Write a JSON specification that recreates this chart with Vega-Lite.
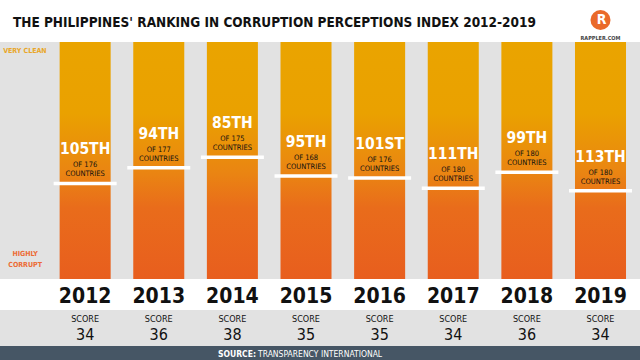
{
  "$schema": "https://vega.github.io/schema/vega-lite/v6.json",
  "padding": {"left": 0, "right": 0, "top": 9, "bottom": 0},
  "background": "white",
  "title": {
    "text": "THE PHILIPPINES' RANKING IN CORRUPTION PERCEPTIONS INDEX 2012-2019",
    "anchor": "start",
    "frame": "group",
    "dx": 13,
    "offset": -20,
    "font": "DejaVu Sans Condensed, DejaVu Sans, sans-serif",
    "fontSize": 13.5,
    "fontWeight": "bold",
    "color": "#111111"
  },
  "data": {
    "values": [
      {"year": "2012", "rank_label": "105TH", "countries": 176, "score": 34, "rank_share": 0.597},
      {"year": "2013", "rank_label": "94TH", "countries": 177, "score": 36, "rank_share": 0.531},
      {"year": "2014", "rank_label": "85TH", "countries": 175, "score": 38, "rank_share": 0.486},
      {"year": "2015", "rank_label": "95TH", "countries": 168, "score": 35, "rank_share": 0.565},
      {"year": "2016", "rank_label": "101ST", "countries": 176, "score": 35, "rank_share": 0.574},
      {"year": "2017", "rank_label": "111TH", "countries": 180, "score": 34, "rank_share": 0.617},
      {"year": "2018", "rank_label": "99TH", "countries": 180, "score": 36, "rank_share": 0.55},
      {"year": "2019", "rank_label": "113TH", "countries": 180, "score": 34, "rank_share": 0.628}
    ]
  },
  "spacing": 31,
  "bounds": "flush",
  "vconcat": [
    {
      "width": 640,
      "height": 237,
      "view": {"fill": "#e2e2e2", "stroke": null},
      "encoding": {
        "x": {
          "field": "year",
          "type": "nominal",
          "scale": {"type": "band", "paddingInner": 0.307, "paddingOuter": 0.5, "align": 0.81},
          "axis": {
            "title": null,
            "domain": false,
            "ticks": false,
            "grid": false,
            "labelAngle": 0,
            "labelFont": "DejaVu Sans Condensed, DejaVu Sans, sans-serif",
            "labelFontSize": 21,
            "labelFontWeight": "bold",
            "labelColor": "#111111",
            "labelPadding": 6,
            "labelBaseline": "top"
          }
        }
      },
      "layer": [
        {
          "mark": {
            "type": "bar",
            "color": {
              "gradient": "linear",
              "x1": 0, "y1": 0, "x2": 0, "y2": 1,
              "stops": [
                {"offset": 0, "color": "#eaa400"},
                {"offset": 0.3, "color": "#eaa100"},
                {"offset": 0.55, "color": "#ea8512"},
                {"offset": 0.7, "color": "#e96c1b"},
                {"offset": 1, "color": "#e85e1e"}
              ]
            }
          },
          "encoding": {
            "y": {"datum": 0, "type": "quantitative", "scale": {"domain": [0, 1], "reverse": true, "nice": false, "zero": false}, "axis": null},
            "y2": {"datum": 1}
          }
        },
        {
          "mark": {"type": "tick", "color": "white", "thickness": 3.5, "size": 63, "opacity": 1},
          "encoding": {
            "y": {"field": "rank_share", "type": "quantitative"}
          }
        },
        {
          "mark": {"type": "text", "color": "white", "font": "DejaVu Sans Condensed, DejaVu Sans, sans-serif", "fontSize": 15.5, "fontWeight": "bold", "baseline": "middle", "dy": -34},
          "encoding": {
            "y": {"field": "rank_share", "type": "quantitative"},
            "text": {"field": "rank_label"}
          }
        },
        {
          "mark": {"type": "text", "color": "#111111", "font": "DejaVu Sans Condensed, DejaVu Sans, sans-serif", "fontSize": 7.5, "baseline": "middle", "dy": -18, "text": {"expr": "'OF ' + datum.countries"}},
          "encoding": {
            "y": {"field": "rank_share", "type": "quantitative"}
          }
        },
        {
          "mark": {"type": "text", "color": "#111111", "font": "DejaVu Sans Condensed, DejaVu Sans, sans-serif", "fontSize": 7.5, "baseline": "middle", "dy": -9},
          "encoding": {
            "y": {"field": "rank_share", "type": "quantitative"},
            "text": {"value": "COUNTRIES"}
          }
        },
        {
          "data": {"values": [{"label": "VERY CLEAN"}]},
          "mark": {"type": "text", "color": "#e9a628", "font": "DejaVu Sans Condensed, DejaVu Sans, sans-serif", "fontSize": 7, "fontWeight": "bold", "align": "left", "baseline": "middle", "dx": -82, "dy": 9},
          "encoding": {
            "x": {"datum": "2012"},
            "y": {"datum": 0, "type": "quantitative"},
            "text": {"field": "label"}
          }
        },
        {
          "data": {"values": [{"label": "HIGHLY CORRUPT"}]},
          "mark": {"type": "text", "color": "#ec6b35", "font": "DejaVu Sans Condensed, DejaVu Sans, sans-serif", "fontSize": 7, "fontWeight": "bold", "align": "center", "baseline": "middle", "dx": -60, "dy": -25, "lineHeight": 11, "text": ["HIGHLY", "CORRUPT"]},
          "encoding": {
            "x": {"datum": "2012"},
            "y": {"datum": 1, "type": "quantitative"}
          }
        },
        {
          "data": {"values": [{"brand": "RAPPLER.COM"}]},
          "layer": [
            {
              "mark": {"type": "point", "shape": "circle", "filled": true, "color": "#ea6a2a", "size": 400, "opacity": 1},
              "encoding": {"x": {"datum": "2019"}, "y": {"datum": -0.093, "type": "quantitative"}}
            },
            {
              "mark": {"type": "text", "color": "white", "font": "DejaVu Sans Condensed, DejaVu Sans, sans-serif", "fontSize": 14, "fontWeight": "bold", "baseline": "middle", "dx": 1, "text": "R"},
              "encoding": {"x": {"datum": "2019"}, "y": {"datum": -0.093, "type": "quantitative"}}
            },
            {
              "mark": {"type": "text", "color": "#444444", "font": "DejaVu Sans Condensed, DejaVu Sans, sans-serif", "fontSize": 5.5, "fontWeight": "bold", "baseline": "middle"},
              "encoding": {"x": {"datum": "2019"}, "y": {"datum": -0.015, "type": "quantitative"}, "text": {"field": "brand"}}
            }
          ]
        }
      ]
    },
    {
      "spacing": 0,
      "bounds": "flush",
      "vconcat": [
        {
          "width": 640,
          "height": 36,
          "view": {"fill": "#e2e2e2", "stroke": null},
          "encoding": {
            "x": {
              "field": "year",
              "type": "nominal",
              "scale": {"type": "band", "paddingInner": 0.307, "paddingOuter": 0.5, "align": 0.81},
              "axis": null
            }
          },
          "layer": [
            {
              "mark": {"type": "text", "color": "#111111", "font": "DejaVu Sans Condensed, DejaVu Sans, sans-serif", "fontSize": 9, "baseline": "middle", "dy": -9},
              "encoding": {"text": {"value": "SCORE"}}
            },
            {
              "mark": {"type": "text", "color": "#111111", "font": "DejaVu Sans Condensed, DejaVu Sans, sans-serif", "fontSize": 16, "baseline": "middle", "dy": 7},
              "encoding": {"text": {"field": "score"}}
            }
          ]
        },
        {
          "width": 640,
          "height": 16,
          "view": {"fill": "#465665", "stroke": null},
          "data": {"values": [{"prefix": "SOURCE:", "source": "TRANSPARENCY INTERNATIONAL"}]},
          "layer": [
            {
              "mark": {"type": "text", "color": "white", "font": "DejaVu Sans Condensed, DejaVu Sans, sans-serif", "fontSize": 8.5, "fontWeight": "bold", "align": "right", "baseline": "middle", "dx": -64},
              "encoding": {"text": {"field": "prefix"}}
            },
            {
              "mark": {"type": "text", "color": "white", "font": "DejaVu Sans Condensed, DejaVu Sans, sans-serif", "fontSize": 8.5, "align": "left", "baseline": "middle", "dx": -62},
              "encoding": {"text": {"field": "source"}}
            }
          ]
        }
      ]
    }
  ],
  "config": {"view": {"stroke": null}}
}
